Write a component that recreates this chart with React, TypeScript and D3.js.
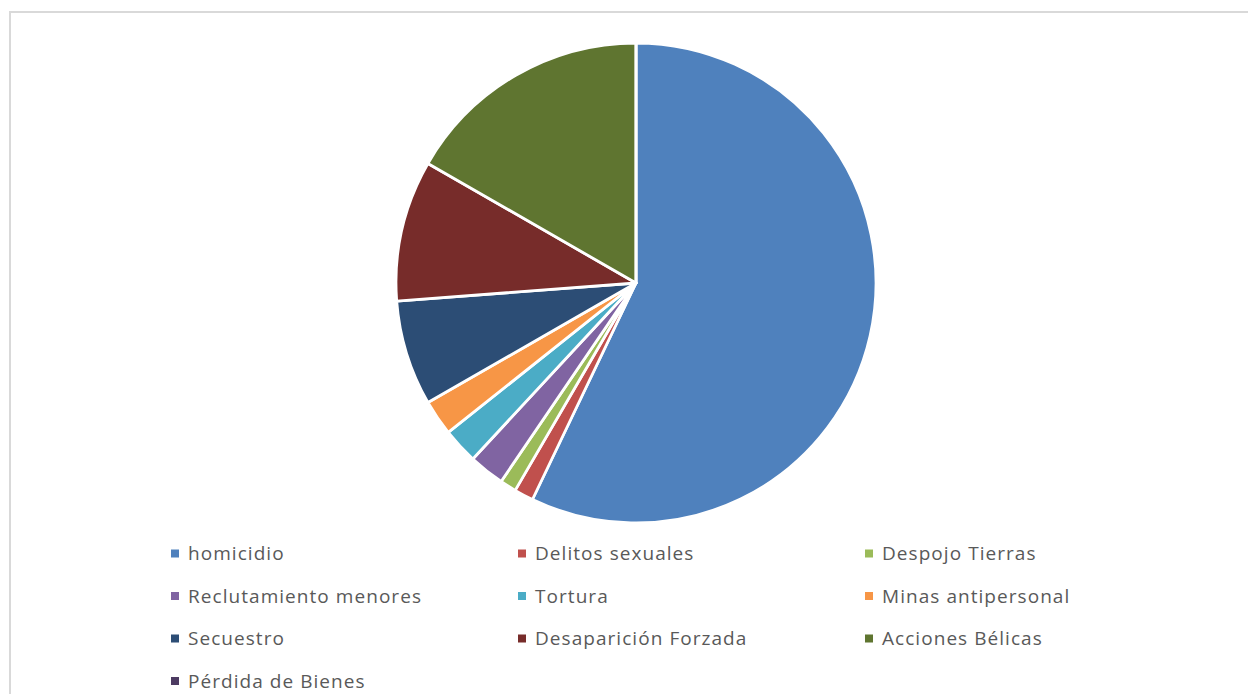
import * as React from "react";
import * as d3 from "d3";

const categories = [
  "homicidio",
  "Delitos sexuales",
  "Despojo Tierras",
  "Reclutamiento menores",
  "Tortura",
  "Minas antipersonal",
  "Secuestro",
  "Desaparición Forzada",
  "Acciones Bélicas",
  "Pérdida de Bienes",
];

const values = [57.1, 1.3, 1.1, 2.4, 2.4, 2.4, 7.1, 9.5, 16.7, 0];

const colors = [
  "#4F81BD",
  "#C0504D",
  "#9BBB59",
  "#8064A2",
  "#4BACC6",
  "#F79646",
  "#2C4D75",
  "#772C2A",
  "#5F7530",
  "#4D3B62",
];

const width = 1248;
const height = 694;

export default function App() {
  const cx = 636;
  const cy = 283;
  const radius = 240;

  const pie = d3.pie<number>().sort(null).value((d) => d);
  const arcs = pie(values);
  const arc = d3.arc<d3.PieArcDatum<number>>().innerRadius(0).outerRadius(radius);

  // legend grid: 3 columns, rows top to bottom
  const col = d3.scalePoint<number>().domain([0, 1, 2]).range([171, 865]);
  const row = d3.scaleLinear().domain([0, 1]).range([553, 595.5]);

  return (
    <div style={{ position: "absolute", left: 0, top: 0 }}>
      <svg width={width} height={height} style={{ display: "block" }}>
        <rect x={0} y={0} width={width} height={height} fill="#fff" />
        <rect x={10} y={12} width={width + 20} height={height + 20} fill="#fff" stroke="#d9d9d9" strokeWidth={2} />
        <g transform={`translate(${cx},${cy})`}>
          {arcs.map((a, i) => (
            <path key={i} d={arc(a) || ""} fill={colors[i]} stroke="#fff" strokeWidth={2.8} strokeLinejoin="round" />
          ))}
        </g>
        <g fontFamily="'Open Sans', 'Noto Sans', sans-serif" fontSize={19} letterSpacing={1.05} fill="#595959">
          {categories.map((c, i) => {
            const x = col(i % 3)!;
            const y = row(Math.floor(i / 3));
            return (
              <g key={c}>
                <rect x={x} y={y - 3.5} width={8} height={8} fill={colors[i]} />
                <text x={x + 17} y={y} dominantBaseline="central">
                  {c}
                </text>
              </g>
            );
          })}
        </g>
      </svg>
    </div>
  );
}
